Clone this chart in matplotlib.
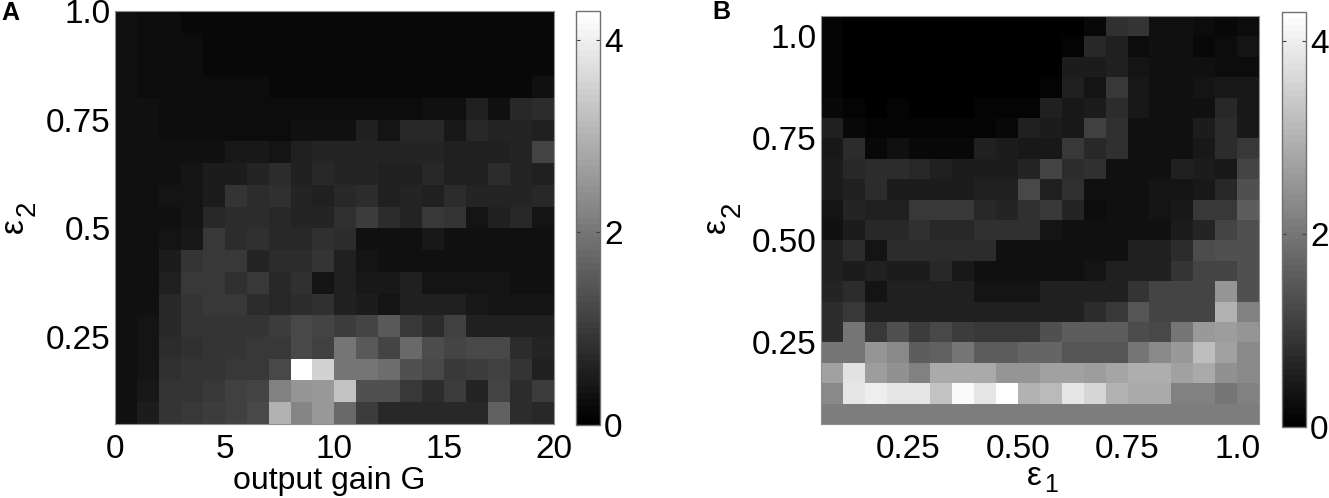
import matplotlib
matplotlib.use("Agg")
import matplotlib.pyplot as plt
import numpy as np

plt.rcParams['font.family'] = ['Liberation Sans', 'DejaVu Sans']

W, H = 1329, 498
FS = 24
VMAX = 4.3

# output gain G (columns) vs eps2 (rows, top row first)
grid_a = [
    [.30,.25,.25,.20,.20,.20,.20,.20,.20,.20,.20,.20,.20,.20,.20,.20,.20,.20,.20,.20],
    [.30,.25,.25,.25,.20,.20,.20,.20,.20,.15,.15,.20,.20,.20,.20,.20,.20,.20,.20,.20],
    [.30,.25,.25,.25,.20,.20,.20,.20,.20,.20,.20,.20,.20,.20,.20,.20,.20,.20,.20,.20],
    [.30,.25,.25,.25,.25,.25,.25,.20,.20,.20,.20,.20,.20,.20,.20,.20,.20,.20,.20,.27],
    [.30,.27,.22,.22,.22,.22,.22,.22,.22,.22,.22,.22,.22,.22,.30,.30,.55,.30,.70,.75],
    [.30,.27,.22,.22,.22,.22,.22,.22,.27,.27,.27,.60,.40,.70,.70,.42,.70,.65,.65,.60],
    [.30,.30,.30,.30,.30,.42,.42,.35,.55,.62,.62,.62,.62,.62,.62,.60,.60,.55,.65,1.2],
    [.30,.30,.30,.35,.50,.50,.65,.80,.60,.72,.65,.65,.55,.55,.70,.60,.60,.75,.65,.55],
    [.30,.30,.35,.40,.50,.90,.75,.85,.65,.60,.70,.75,.60,.65,.60,.75,.62,.62,.62,.70],
    [.30,.30,.30,.40,.70,.80,.80,.70,.65,.65,.85,1.05,.80,.65,.95,.90,.40,.60,.70,.40],
    [.30,.30,.35,.45,.95,.80,.85,.70,.70,.85,.80,.30,.30,.30,.45,.33,.33,.33,.33,.33],
    [.30,.30,.50,.90,.95,.95,.65,.75,.80,.90,.60,.40,.33,.33,.33,.33,.33,.33,.28,.28],
    [.30,.30,.55,.95,.95,.85,.95,.70,.85,.40,.55,.45,.45,.60,.35,.38,.35,.38,.30,.30],
    [.30,.30,.70,.90,.95,.95,.80,.70,.75,.85,.55,.50,.40,.55,.55,.60,.45,.40,.40,.35],
    [.30,.35,.70,.90,.90,.90,.90,1.05,1.25,1.15,1.05,1.20,1.50,.95,.80,1.10,.60,.60,.55,.60],
    [.30,.40,.80,.85,.90,.90,.95,.95,1.25,1.10,1.95,1.50,1.20,1.80,1.30,1.20,1.25,1.25,.80,.65],
    [.30,.38,.85,.90,.90,.95,.95,1.25,4.30,3.55,2.00,2.00,1.85,1.40,1.25,1.00,1.05,1.10,.90,.55],
    [.30,.45,.90,.90,.95,1.10,1.20,2.15,2.50,2.60,3.25,1.40,1.35,1.00,.75,1.05,.65,1.20,.80,1.05],
    [.30,.50,.90,.95,1.05,1.10,1.25,3.00,2.25,2.60,1.80,1.05,.70,.70,.70,.70,.70,1.65,.80,.70],
]

# eps1 (columns) vs eps2 (rows, top row first)
grid_b = [
    [.12,0,0,0,0,0,0,0,0,0,0,0,.20,.85,.90,.28,.28,.25,.20,.25],
    [.10,0,0,0,0,0,0,0,0,0,0,.10,.70,.55,.25,.27,.27,.20,.25,.40],
    [.10,0,0,0,0,0,0,0,0,0,.05,.50,.50,.60,.40,.27,.27,.27,.22,.22],
    [.10,0,0,0,0,0,0,0,0,.05,.10,.55,.35,.95,.45,.27,.27,.35,.45,.45],
    [.20,.12,.02,.07,0,0,0,.07,.07,.12,.55,.45,.50,.80,.45,.27,.27,.27,.70,.45],
    [.55,.20,.10,.10,.10,.10,.10,.12,.20,.55,.50,.45,1.10,.85,.27,.27,.27,.50,.75,.42],
    [.42,.75,.20,.30,.17,.17,.20,.55,.50,.45,.45,.95,.70,.85,.30,.27,.27,.42,.80,.95],
    [.50,.70,.80,.75,.70,.60,.50,.50,.50,.65,1.20,.80,.85,.30,.30,.30,.55,.50,.45,1.15],
    [.50,.55,.80,.50,.50,.50,.50,.60,.60,1.25,.60,.85,.30,.30,.30,.35,.38,.42,.70,1.40],
    [.35,.65,.55,.60,.95,.95,.95,.70,.65,.85,.95,.65,.25,.30,.30,.40,.45,.95,.95,1.55],
    [.30,.50,.70,.72,.85,.70,.70,.85,.85,.85,.35,.30,.30,.33,.33,.33,.50,.65,1.20,1.40],
    [.60,.80,.35,.75,.78,.75,.80,.80,.33,.33,.33,.33,.33,.33,.55,.55,.75,1.30,1.35,1.35],
    [.60,.50,.60,.50,.50,.70,.45,.33,.33,.33,.33,.33,.38,.55,.60,.60,.90,1.15,1.15,1.40],
    [.65,.80,.35,.55,.55,.55,.55,.35,.35,.35,.55,.55,.55,.55,.90,1.20,1.20,1.20,2.50,1.40],
    [.75,.95,.55,.55,.55,.55,.55,.55,.60,.60,.60,.60,.80,.95,1.45,1.20,1.20,1.20,3.00,2.20],
    [.80,2.00,.95,1.40,1.05,1.25,1.05,1.00,1.00,1.00,1.35,1.55,1.55,1.55,1.30,1.25,2.00,2.60,2.65,2.50],
    [2.00,2.00,2.50,2.30,1.60,1.65,1.95,1.60,1.60,1.70,1.70,1.45,1.45,1.45,2.00,2.35,2.60,3.20,2.75,2.30],
    [2.70,3.80,2.65,2.45,2.15,2.85,2.85,2.85,2.55,2.55,2.75,2.75,2.65,2.80,2.90,2.90,2.75,2.85,2.45,2.35],
    [2.35,3.85,4.00,3.85,3.85,3.25,4.20,3.85,4.30,3.00,3.15,3.85,3.60,3.00,2.85,2.85,2.20,2.20,2.00,2.15],
    [2.10,2.10,2.10,2.10,2.10,2.10,2.10,2.10,2.10,2.10,2.10,2.10,2.10,2.10,2.10,2.10,2.10,2.10,2.10,2.10],
]

cticks = [0, 2, 4]
xticks_a = [0, 5, 10, 15, 20]
yticks_a = [0.25, 0.5, 0.75, 1.0]
ylabels_a = ['0.25', '0.5', '0.75', '1.0']
ticks_b = [0.25, 0.50, 0.75, 1.0]
labels_b = ['0.25', '0.50', '0.75', '1.0']


# pixel box (from top left) to figure coords
def px_axes(fig, x0, y0, x1, y1):
    return fig.add_axes([x0 / W, 1 - y1 / H, (x1 - x0) / W, (y1 - y0) / H])


def px_text(fig, x, y, s, **kw):
    return fig.text(x / W, 1 - y / H, s, ha='center', va='center', **kw)


def heat(fig, box, cbox, grid, extent):
    ax = px_axes(fig, *box)
    cmap = plt.get_cmap('gray', 64)
    im = ax.imshow(np.array(grid), cmap=cmap, vmin=0, vmax=VMAX, extent=extent,
                   aspect='auto', interpolation='nearest', origin='upper')
    ax.tick_params(length=0, labelsize=FS)
    ax.tick_params(axis='x', pad=7)
    ax.tick_params(axis='y', pad=3)
    for s in ax.spines.values():
        s.set_color('#909090')
        s.set_linewidth(0.8)

    cax = px_axes(fig, *cbox)
    cb = fig.colorbar(im, cax=cax, ticks=cticks)
    cb.ax.tick_params(direction='in', left=True, right=True, length=3, width=0.8,
                      color='#404040', labelsize=FS, pad=3)
    cb.outline.set_edgecolor('#707070')
    cb.outline.set_linewidth(1.0)
    return ax


fig = plt.figure(figsize=(W / 100, H / 100), dpi=100)

ax1 = heat(fig, (115, 11, 554, 424), (576, 11, 600, 425), grid_a, [0, 20, 0.05, 1.0])
ax1.set_xticks(xticks_a)
ax1.set_yticks(yticks_a)
ax1.set_yticklabels(ylabels_a)

ax2 = heat(fig, (821, 16, 1259, 424), (1282, 12, 1306, 427), grid_b, [0.05, 1.05, 0.05, 1.05])
ax2.set_xticks(ticks_b)
ax2.set_xticklabels(labels_b)
ax2.set_yticks(ticks_b)
ax2.set_yticklabels(labels_b)

# labels
px_text(fig, 329, 481, 'output gain G', fontsize=23)

# eps and its index are separate texts, the index is big and sits far off
px_text(fig, 14, 226, 'ε', fontsize=24, rotation=90)
px_text(fig, 28, 208, '2', fontsize=20, rotation=90)
px_text(fig, 716, 226, 'ε', fontsize=24, rotation=90)
px_text(fig, 733, 209, '2', fontsize=20, rotation=90)
px_text(fig, 1034, 476, 'ε', fontsize=24)
px_text(fig, 1051, 485, '1', fontsize=18)

fig.text(1 / W, 1 - 20 / H, 'A', fontsize=18, fontweight='bold', ha='left', va='baseline')
fig.text(712 / W, 1 - 19 / H, 'B', fontsize=18, fontweight='bold', ha='left', va='baseline')

fig.savefig('out.png', dpi=100)
